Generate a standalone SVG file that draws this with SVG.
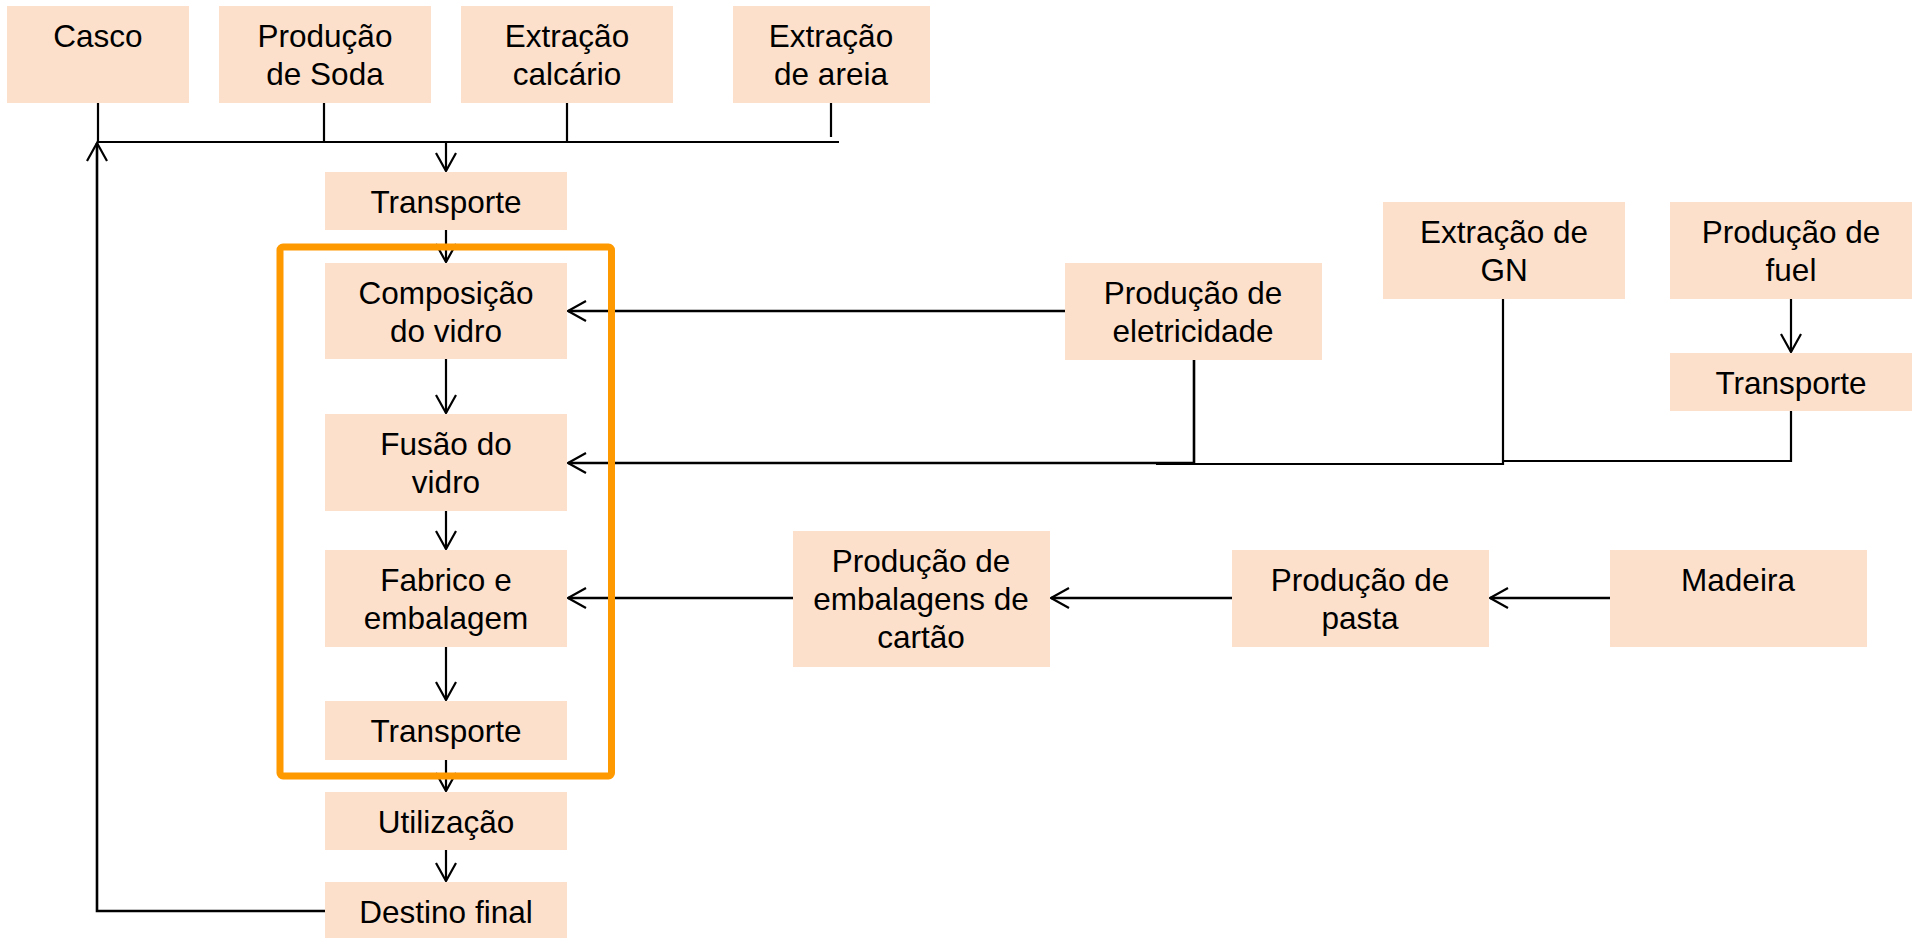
<svg xmlns="http://www.w3.org/2000/svg" width="1924" height="938" viewBox="0 0 1924 938">
<defs>
<style>
.box{fill:#FDE0CC;stroke:none}
.t{font-family:"Liberation Sans",Arial,sans-serif;font-size:31.5px;fill:#000;text-anchor:middle}
.c{fill:none;stroke:#000;stroke-width:2.2}
.ca{fill:none;stroke:#000;stroke-width:2.2;marker-end:url(#ah)}
.frame{fill:none;stroke:#FF9900;stroke-width:7}
</style>
<marker id="ah" markerUnits="userSpaceOnUse" markerWidth="22" markerHeight="24" refX="19" refY="11" orient="auto" viewBox="0 0 22 24">
<path d="M1,1 L19,11 L1,21" fill="none" stroke="#000" stroke-width="2.2"/>
</marker>
</defs>
<rect width="1924" height="938" fill="#fff"/>

<g id="connectors">
<path class="c" d="M98,103 V142 H839"/>
<path class="c" d="M324,103 V142"/>
<path class="c" d="M567,103 V142"/>
<path class="c" d="M831,103 V137"/>
<path class="ca" d="M446,142 V171"/>
<path class="ca" d="M446,230 V262"/>
<path class="ca" d="M446,359 V413"/>
<path class="ca" d="M446,511 V549"/>
<path class="ca" d="M446,647 V700"/>
<path class="ca" d="M446,760 V791"/>
<path class="ca" d="M446,850 V881"/>
<path class="ca" d="M325,911 H97 V143" style="stroke-width:2.6"/>
<path class="ca" d="M1065,311 H568" style="stroke-width:2.6"/>
<path class="ca" d="M1194,360 V463 H568" style="stroke-width:2.6"/>
<path class="c" d="M1156,464 H1503 V299"/>
<path class="c" d="M1503,461 H1791 V411"/>
<path class="ca" d="M1791,299 V352"/>
<path class="ca" d="M793,598 H568" style="stroke-width:2.6"/>
<path class="ca" d="M1232,598 H1051" style="stroke-width:2.6"/>
<path class="ca" d="M1610,598 H1490" style="stroke-width:2.6"/>
</g>

<g id="n-casco"><rect class="box" x="7" y="6" width="182" height="97"/><text class="t" x="98" y="47">Casco</text></g>
<g id="n-soda"><rect class="box" x="219" y="6" width="212" height="97"/><text class="t" x="325" y="47">Produção</text><text class="t" x="325" y="85">de Soda</text></g>
<g id="n-calcario"><rect class="box" x="461" y="6" width="212" height="97"/><text class="t" x="567" y="47">Extração</text><text class="t" x="567" y="85">calcário</text></g>
<g id="n-areia"><rect class="box" x="733" y="6" width="197" height="97"/><text class="t" x="831" y="47">Extração</text><text class="t" x="831" y="85">de areia</text></g>

<g id="n-transporte1"><rect class="box" x="325" y="172" width="242" height="58"/><text class="t" x="446" y="213">Transporte</text></g>
<g id="n-composicao"><rect class="box" x="325" y="263" width="242" height="96"/><text class="t" x="446" y="304">Composição</text><text class="t" x="446" y="342">do vidro</text></g>
<g id="n-fusao"><rect class="box" x="325" y="414" width="242" height="97"/><text class="t" x="446" y="455">Fusão do</text><text class="t" x="446" y="493">vidro</text></g>
<g id="n-fabrico"><rect class="box" x="325" y="550" width="242" height="97"/><text class="t" x="446" y="591">Fabrico e</text><text class="t" x="446" y="629">embalagem</text></g>
<g id="n-transporte2"><rect class="box" x="325" y="701" width="242" height="59"/><text class="t" x="446" y="742">Transporte</text></g>
<g id="n-utilizacao"><rect class="box" x="325" y="792" width="242" height="58"/><text class="t" x="446" y="833">Utilização</text></g>
<g id="n-destino"><rect class="box" x="325" y="882" width="242" height="58"/><text class="t" x="446" y="923">Destino final</text></g>

<g id="n-eletricidade"><rect class="box" x="1065" y="263" width="257" height="97"/><text class="t" x="1193" y="304">Produção de</text><text class="t" x="1193" y="342">eletricidade</text></g>
<g id="n-gn"><rect class="box" x="1383" y="202" width="242" height="97"/><text class="t" x="1504" y="243">Extração de</text><text class="t" x="1504" y="281">GN</text></g>
<g id="n-fuel"><rect class="box" x="1670" y="202" width="242" height="97"/><text class="t" x="1791" y="243">Produção de</text><text class="t" x="1791" y="281">fuel</text></g>
<g id="n-transporte3"><rect class="box" x="1670" y="353" width="242" height="58"/><text class="t" x="1791" y="394">Transporte</text></g>
<g id="n-embalagens"><rect class="box" x="793" y="531" width="257" height="136"/><text class="t" x="921" y="572">Produção de</text><text class="t" x="921" y="610">embalagens de</text><text class="t" x="921" y="648">cartão</text></g>
<g id="n-pasta"><rect class="box" x="1232" y="550" width="257" height="97"/><text class="t" x="1360" y="591">Produção de</text><text class="t" x="1360" y="629">pasta</text></g>
<g id="n-madeira"><rect class="box" x="1610" y="550" width="257" height="97"/><text class="t" x="1738" y="591">Madeira</text></g>

<g id="frame"><rect class="frame" x="280" y="247" width="331.5" height="529" rx="3"/></g>
</svg>
